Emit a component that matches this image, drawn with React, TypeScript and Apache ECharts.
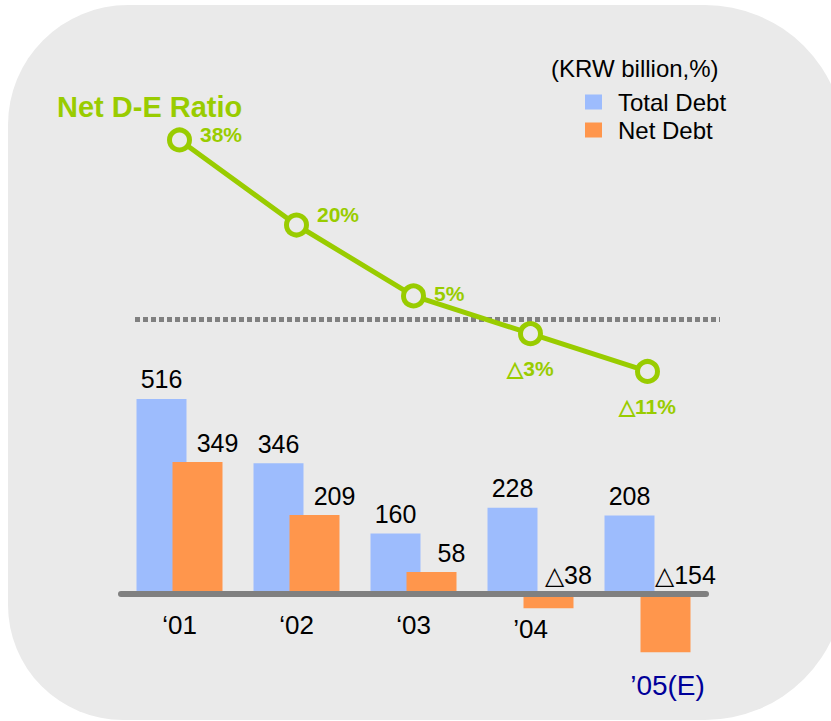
import React, { useEffect, useRef } from 'react';
import * as echarts from 'echarts';

// ---- data ----
const categories = ['\u201801', '\u201802', '\u201803', '\u201904', '\u201905(E)'];
const totalDebt = [516, 346, 160, 228, 208];
const netDebt = [349, 209, 58, -38, -154];
const netDERatio = [38, 20, 5, -3, -11];
const seriesNames = ['Total Debt', 'Net Debt', 'Net D-E Ratio'];
const ratioTitle = 'Net D-E Ratio';
const unitNote = '(KRW billion,%)';

const FONT = '"Liberation Sans", Arial, Helvetica, sans-serif';
const GREEN = '#99cc00';
const BG = '#eaeaea';
const BLUE = '#9dbcfd';
const ORANGE = '#ff964c';
const GRAY = '#808080';

const fmtSigned = (v: number, suffix = '') => (v < 0 ? '\u25B3' + Math.abs(v) + suffix : v + suffix);

export default function App() {
  const ref = useRef<HTMLDivElement>(null);

  useEffect(() => {
    const chart = echarts.init(ref.current!, undefined, { renderer: 'svg' });

    const ratioLabelPos = ['right', 'right', 'right', 'bottom', 'bottom'];
    const ratioLabelOffset = [[0, -5], [0, -11], [0, -2], [0, 0], [0, 0]];

    const graphics = (y0: number | null) => {
      const g: any[] = [
        {
          id: 'bg',
          type: 'rect',
          z: -10,
          silent: true,
          shape: { x: 8, y: 5, width: 837, height: 715, r: [120, 140, 140, 115] },
          style: { fill: BG },
        },
        {
          id: 'title',
          type: 'text',
          x: 57,
          y: 107,
          style: {
            text: ratioTitle,
            fill: GREEN,
            font: `bold 29px ${FONT}`,
            verticalAlign: 'middle',
          },
        },
        {
          id: 'unit',
          type: 'text',
          x: 551,
          y: 68,
          style: {
            text: unitNote,
            fill: '#000',
            font: `24px ${FONT}`,
            verticalAlign: 'middle',
          },
        },
      ];
      if (y0 !== null) {
        g.push({
          id: 'dots',
          type: 'line',
          z: 0,
          silent: true,
          shape: { x1: 135, y1: y0, x2: 720, y2: y0 },
          style: { stroke: GRAY, lineWidth: 5, lineDash: [5, 3] },
        });
      }
      return g;
    };

    const option: any = {
      animation: false,
      backgroundColor: 'transparent',
      textStyle: { fontFamily: FONT },
      graphic: graphics(null),
      legend: {
        data: [seriesNames[0], seriesNames[1]],
        orient: 'vertical',
        left: 580,
        top: 84,
        itemWidth: 17,
        itemHeight: 15,
        itemGap: 2,
        icon: 'rect',
        selectedMode: false,
        textStyle: {
          fontFamily: FONT,
          fontSize: 24,
          color: '#000',
          lineHeight: 26,
          padding: [0, 0, 0, 11],
        },
      },
      // grid bottom sits on the zero line of the bar axis (y = 594)
      grid: { left: 121, width: 585, top: 100, height: 494, outerBoundsMode: 'none', containLabel: false },
      xAxis: {
        type: 'category',
        data: categories,
        z: 10,
        axisTick: { show: false },
        axisLine: { show: true, lineStyle: { color: GRAY, width: 6 } },
        axisLabel: {
          interval: 0,
          margin: 18,
          formatter: (v: string, i: number) => (i === 4 ? `{e|${v}}` : i === 3 ? `{d|${v}}` : `{n|${v}}`),
          rich: {
            n: { fontSize: 26, color: '#000', fontFamily: FONT },
            d: { fontSize: 26, color: '#000', fontFamily: FONT, padding: [4, 0, 0, 0] },
            e: { fontSize: 28, color: '#000099', fontFamily: FONT, padding: [59, 0, 0, 40] },
          },
        },
        splitLine: { show: false },
      },
      yAxis: [
        { type: 'value', show: false, min: 0, max: 1307, splitLine: { show: false } },
        { type: 'value', show: false, min: -58.1, max: 46.46, splitLine: { show: false } },
      ],
      series: [
        {
          name: seriesNames[0],
          type: 'bar',
          data: totalDebt,
          barWidth: 50,
          barGap: '-28%',
          clip: false,
          itemStyle: { color: BLUE },
          label: {
            show: true,
            position: 'top',
            distance: 7,
            color: '#000',
            fontSize: 25,
            fontFamily: FONT,
          },
        },
        {
          name: seriesNames[1],
          type: 'bar',
          data: netDebt,
          barWidth: 50,
          barGap: '-28%',
          clip: false,
          itemStyle: { color: ORANGE },
          label: {
            show: true,
            position: 'top',
            distance: 7,
            offset: [20, 0],
            color: '#000',
            fontSize: 25,
            fontFamily: FONT,
            formatter: (p: any) => fmtSigned(p.value),
          },
        },
        {
          name: seriesNames[2],
          type: 'line',
          yAxisIndex: 1,
          z: 5,
          clip: false,
          data: netDERatio.map((v, i) => ({
            value: v,
            label: {
              position: ratioLabelPos[i],
              offset: ratioLabelOffset[i],
              distance: ratioLabelPos[i] === 'right' ? 8 : 12,
            },
          })),
          symbol: 'circle',
          symbolSize: 20,
          itemStyle: { color: BG, borderColor: GREEN, borderWidth: 5 },
          lineStyle: { color: GREEN, width: 5 },
          label: {
            show: true,
            color: GREEN,
            fontWeight: 'bold',
            fontSize: 21,
            fontFamily: FONT,
            formatter: (p: any) => fmtSigned(p.value, '%'),
          },
        },
      ],
    };

    chart.setOption(option);
    const y0 = chart.convertToPixel({ yAxisIndex: 1 }, 0) as number;
    chart.setOption({ graphic: graphics(y0) });

    return () => chart.dispose();
  }, []);

  return (
    <div
      ref={ref}
      style={{ position: 'absolute', left: 0, top: 0, width: 831, height: 721 }}
    />
  );
}
